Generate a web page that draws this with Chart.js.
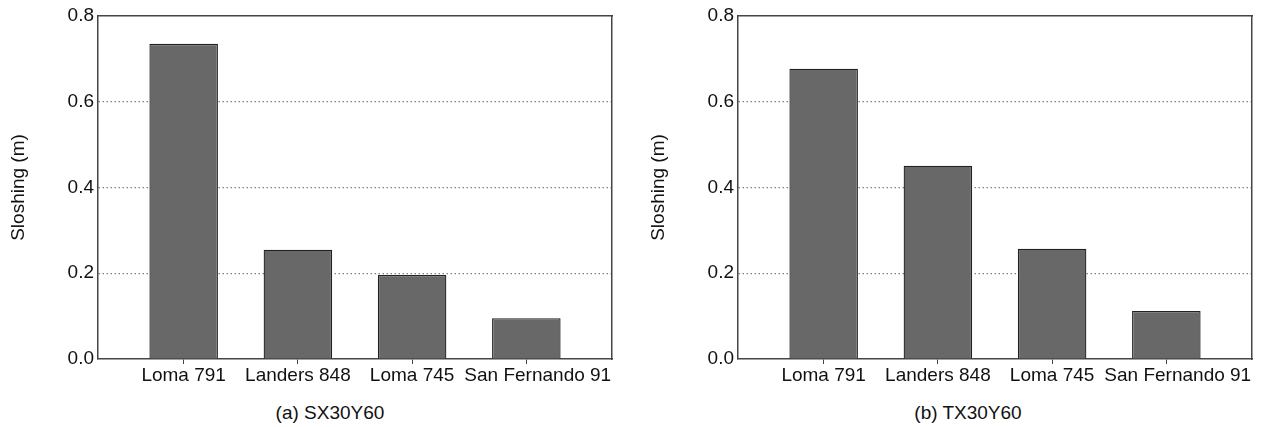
<!DOCTYPE html>
<html>
<head>
<meta charset="utf-8">
<script src="https://cdn.jsdelivr.net/npm/chart.js@4.4.1/dist/chart.umd.min.js"></script>
<style>
  html, body { margin: 0; padding: 0; background: #fff; overflow: hidden; }
  .panel { position: absolute; top: 0; }
  .caption {
    position: absolute; top: 402px;
    font: 19px "Liberation Sans", Arial, sans-serif; color: #111;
    transform: translateX(-50%); white-space: nowrap;
  }
</style>
</head>
<body>
<div class="panel" style="left:0"><canvas id="chartA" width="633" height="400"></canvas></div>
<div class="panel" style="left:640px"><canvas id="chartB" width="626" height="400"></canvas></div>
<div class="caption" style="left:330px">(a) SX30Y60</div>
<div class="caption" style="left:968px">(b) TX30Y60</div>
<script>
// ground motion records (x categories)
const records = ["Loma 791", "Landers 848", "Loma 745", "San Fernando 91"];
const recordPos = [1, 2, 3, 4];
// peak sloshing (m)
const sloshingSX = [0.735, 0.255, 0.196, 0.095];
const sloshingTX = [0.677, 0.451, 0.257, 0.112];
const yTicks = [0, 0.2, 0.4, 0.6, 0.8];

Chart.defaults.font.family = "'Liberation Sans', Arial, sans-serif";
Chart.defaults.font.size = 19;
Chart.defaults.color = "#111";

const axisColor = "#454545";

const makeChart = (id, values, rightPad) => {
  const xTicks = (axis) => { axis.ticks = recordPos.map((v) => ({ value: v })); };
  // last label nudged right a little so it doesn't run into "Loma 745"
  const labelTicks = (axis) => {
    axis.ticks = recordPos.map((v, i) => ({ value: v + (i === recordPos.length - 1 ? 0.1 : 0) }));
  };
  const yBuild = (axis) => { axis.ticks = yTicks.map((v) => ({ value: v })); };

  return new Chart(document.getElementById(id), {
    type: "bar",
    data: {
      datasets: [{
        data: recordPos.map((p, i) => ({ x: p, y: values[i] })),
        backgroundColor: "#686868",
        borderColor: "#222",
        borderWidth: 1.3,
        barPercentage: 0.6,
        categoryPercentage: 1,
      }],
    },
    options: {
      responsive: false,
      animation: false,
      layout: { padding: { top: 16, right: rightPad, left: 0, bottom: 0 } },
      plugins: { legend: { display: false }, tooltip: { enabled: false } },
      scales: {
        x: {
          type: "linear", position: "bottom", min: 0.25, max: 4.75, offset: false,
          afterBuildTicks: xTicks,
          afterFit: (s) => { s.height = 5; },
          ticks: { display: false },
          grid: { offset: false, drawOnChartArea: false, drawTicks: true, tickLength: 5, color: axisColor },
          border: { color: axisColor, width: 1.5 },
        },
        xLabels: {
          type: "linear", position: "bottom", weight: 1, min: 0.25, max: 4.75, offset: false,
          afterBuildTicks: labelTicks,
          afterFit: (s) => { s.height = 36; },
          ticks: {
            callback: (v, i) => records[i],
            autoSkip: false, maxRotation: 0, padding: 0, color: "#111",
          },
          grid: { display: false, drawTicks: false },
          border: { display: false },
        },
        xTop: {
          type: "linear", position: "top", min: 0.25, max: 4.75, offset: false,
          afterBuildTicks: xTicks,
          afterFit: (s) => { s.height = 0; },
          ticks: { display: false },
          grid: { offset: false, drawOnChartArea: false, drawTicks: false },
          border: { color: axisColor, width: 1.5 },
        },
        y: {
          min: 0, max: 0.8,
          afterBuildTicks: yBuild,
          afterFit: (s) => { s.width = 98; },
          ticks: { callback: (v) => v.toFixed(1), padding: 4, color: "#111" },
          grid: {
            drawTicks: false,
            color: (ctx) => (ctx.tick && ctx.tick.value > 0.01 && ctx.tick.value < 0.79) ? "#808080" : "rgba(0,0,0,0)",
            lineWidth: 1.2,
          },
          border: { color: axisColor, width: 1.5, dash: [1.5, 2.5] },
          title: { display: true, text: "Sloshing (m)", color: "#111", padding: { top: 7, bottom: 0 } },
        },
        yRight: {
          position: "right", min: 0, max: 0.8,
          afterBuildTicks: yBuild,
          afterFit: (s) => { s.width = 0; },
          ticks: { display: false },
          grid: { drawOnChartArea: false, drawTicks: false },
          border: { color: axisColor, width: 1.5 },
        },
      },
    },
  });
};

makeChart("chartA", sloshingSX, 21);
makeChart("chartB", sloshingTX, 14);
</script>
</body>
</html>
